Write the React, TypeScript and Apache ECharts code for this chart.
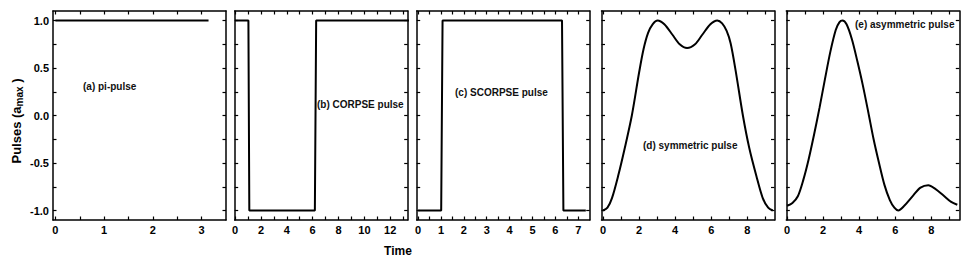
import React, { useEffect, useRef } from "react";
import * as echarts from "echarts";

// ---------- data ----------
const X1 = [0, 3.1416];
const Y1 = [1, 1];

const X2 = [0, 1.03, 1.1, 6.17, 6.27, 13.61];
const Y2 = [1, 1, -1, -1, 1, 1];

const X3 = [0, 1.01, 1.07, 6.29, 6.35, 7.33];
const Y3 = [-1, -1, 1, 1, -1, -1];

const X4 = [0, 0.25, 0.5, 0.85, 1.2, 1.6, 2.0, 2.25, 2.5, 2.75, 3.03, 3.4, 3.85, 4.25, 4.66, 5.1, 5.5, 5.95, 6.33, 6.6, 6.85, 7.07, 7.35, 7.75, 8.1, 8.5, 8.85, 9.15, 9.4];
const Y4 = [-1, -0.97, -0.87, -0.63, -0.35, 0.0, 0.45, 0.7, 0.87, 0.96, 1.0, 0.96, 0.85, 0.75, 0.71, 0.75, 0.85, 0.96, 1.0, 0.97, 0.89, 0.76, 0.47, 0.0, -0.34, -0.64, -0.87, -0.97, -1];

const X5 = [0, 0.3, 0.6, 0.9, 1.2, 1.5, 1.8, 2.1, 2.4, 2.7, 2.9, 3.07, 3.3, 3.6, 3.9, 4.2, 4.5, 4.8, 5.1, 5.4, 5.7, 5.95, 6.17, 6.5, 7.0, 7.4, 7.83, 8.2, 8.66, 9.1, 9.44];
const Y5 = [-0.95, -0.92, -0.85, -0.68, -0.46, -0.2, 0.08, 0.38, 0.67, 0.9, 0.98, 1.0, 0.96, 0.8, 0.57, 0.32, 0.04, -0.25, -0.5, -0.73, -0.89, -0.97, -1.0, -0.95, -0.84, -0.76, -0.735, -0.77, -0.84, -0.91, -0.94];

// tick labels / tick positions
const XL1 = [0, 1, 2, 3];
const XT1 = [0, 0.5, 1, 1.5, 2, 2.5, 3];
const XL2 = [0, 2, 4, 6, 8, 10, 12];
const XT2 = [0, 1, 2, 3, 4, 5, 6, 7, 8, 9, 10, 11, 12, 13];
const XL3 = [0, 1, 2, 3, 4, 5, 6, 7];
const XT3 = [0, 0.5, 1, 1.5, 2, 2.5, 3, 3.5, 4, 4.5, 5, 5.5, 6, 6.5, 7];
const XL45 = [0, 2, 4, 6, 8];
const XT45 = [0, 1, 2, 3, 4, 5, 6, 7, 8, 9];
const YL = [-1, -0.5, 0, 0.5, 1];
const YT = [-1, -0.75, -0.5, -0.25, 0, 0.25, 0.5, 0.75, 1];

const X_RANGES = [
  [-0.05, 3.5],
  [-0.03, 13.35],
  [-0.06, 7.5],
  [-0.08, 9.5],
  [-0.04, 9.55],
];
const Y_RANGE = [-1.1, 1.1];

const LABELS = ["(a) pi-pulse", "(b) CORPSE pulse", "(c) SCORPSE pulse", "(d) symmetric pulse", "(e) asymmetric pulse"];

// ---------- layout ----------
const FONT = "'Liberation Sans', Arial, Helvetica, sans-serif";
const GRID_LEFT = [53, 234.7, 416.7, 601.5, 786.3];
const GRID_W = 173;
const GRID_TOP = 11;
const GRID_H = 209;
const LABEL_POS = [
  [83, 86],
  [317, 104],
  [455, 92],
  [643, 145],
  [855, 24],
];

export default function App() {
  const ref = useRef<HTMLDivElement>(null);
  useEffect(() => {
    if (!ref.current) return;
    const chart = echarts.init(ref.current, null, { renderer: "svg" });
    const xs = [X1, X2, X3, X4, X5];
    const ys = [Y1, Y2, Y3, Y4, Y5];
    const xl = [XL1, XL2, XL3, XL45, XL45];
    const xt = [XT1, XT2, XT3, XT45, XT45];
    const smooth = [false, false, false, true, true];

    const axisLine = { show: true, onZero: false, lineStyle: { color: "#000", width: 1.5 } };
    const tickStyle = { color: "#000", width: 1.2 };
    const labelStyle = { fontFamily: FONT, fontWeight: "bold" as const, fontSize: 11, color: "#000" };

    const grids: any[] = [];
    const xAxes: any[] = [];
    const yAxes: any[] = [];
    const series: any[] = [];

    for (let i = 0; i < 5; i++) {
      grids.push({ left: GRID_LEFT[i], top: GRID_TOP, width: GRID_W, height: GRID_H, containLabel: false, outerBoundsMode: "none" });
      const base = { type: "value", gridIndex: i, min: X_RANGES[i][0], max: X_RANGES[i][1], splitLine: { show: false }, axisLine };
      xAxes.push({
        ...base,
        position: "bottom",
        axisTick: { show: true, inside: true, length: 3.5, customValues: xt[i], lineStyle: tickStyle },
        axisLabel: { show: true, customValues: xl[i], margin: 4, ...labelStyle, formatter: (v: number) => String(v) },
      });
      xAxes.push({
        ...base,
        position: "top",
        axisTick: { show: true, inside: true, length: 3.5, customValues: xt[i], lineStyle: tickStyle },
        axisLabel: { show: false },
      });
      const ybase = { type: "value", gridIndex: i, min: Y_RANGE[0], max: Y_RANGE[1], splitLine: { show: false }, axisLine };
      yAxes.push({
        ...ybase,
        position: "left",
        axisTick: { show: true, inside: true, length: 3.5, customValues: YT, lineStyle: tickStyle },
        axisLabel: { show: i === 0, customValues: YL, margin: 4, ...labelStyle, formatter: (v: number) => v.toFixed(1) },
      });
      yAxes.push({
        ...ybase,
        position: "right",
        axisTick: { show: true, inside: true, length: 3.5, customValues: YT, lineStyle: tickStyle },
        axisLabel: { show: false },
      });
      series.push({
        type: "line",
        xAxisIndex: 2 * i,
        yAxisIndex: 2 * i,
        data: xs[i].map((x, k) => [x, ys[i][k]]),
        showSymbol: false,
        smooth: smooth[i] ? 0.3 : false,
        clip: true,
        lineStyle: { color: "#000", width: 2 },
        silent: true,
      });
    }

    const graphic: any[] = LABELS.map((t, i) => ({
      type: "text",
      x: LABEL_POS[i][0],
      y: LABEL_POS[i][1],
      style: { text: t, font: `bold 10px ${FONT}`, fill: "#111", align: "left", verticalAlign: "middle" },
    }));
    graphic.push({
      type: "text",
      x: 398,
      y: 251,
      style: { text: "Time", font: `bold 12px ${FONT}`, fill: "#000", align: "center", verticalAlign: "middle" },
    });
    graphic.push({
      type: "text",
      x: 16,
      y: 121,
      rotation: Math.PI / 2,
      style: {
        text: "{a|Pulses (a}{b|max}{a| )}",
        align: "center",
        verticalAlign: "middle",
        rich: {
          a: { fontFamily: FONT, fontWeight: "bold", fontSize: 13, fill: "#000", lineHeight: 16, verticalAlign: "middle" },
          b: { fontFamily: FONT, fontWeight: "bold", fontSize: 10, fill: "#000", lineHeight: 16, verticalAlign: "bottom" },
        },
      },
    });

    chart.setOption({
      animation: false,
      backgroundColor: "#fff",
      grid: grids,
      xAxis: xAxes,
      yAxis: yAxes,
      series,
      graphic,
    });
    return () => chart.dispose();
  }, []);
  return <div ref={ref} style={{ position: "absolute", left: 0, top: 0, width: 980, height: 273 }} />;
}
